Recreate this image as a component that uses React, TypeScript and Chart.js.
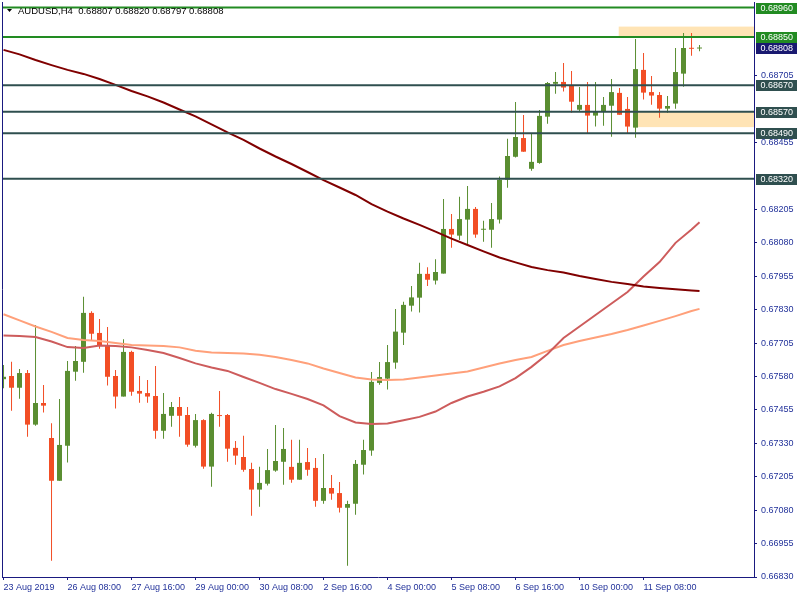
import React, { useEffect, useRef } from 'react';
import { Chart, registerables } from 'chart.js';

Chart.register(...registerables);

// ---- data (candle index k = one H4 bar) ----
const symbol = 'AUDUSD,H4';

const opens = [
  0.67570, 0.67582, 0.67538, 0.67593, 0.67400, 0.67481, 0.67350, 0.67190, 0.67321, 0.67598,
  0.67635, 0.67818, 0.67743, 0.67698, 0.67582, 0.67505, 0.67672, 0.67526, 0.67518, 0.67507,
  0.67377, 0.67433, 0.67466, 0.67436, 0.67321, 0.67417, 0.67243, 0.67435, 0.67436, 0.67313,
  0.67279, 0.67234, 0.67157, 0.67179, 0.67228, 0.67261, 0.67242, 0.67194, 0.67260, 0.67238,
  0.67115, 0.67163, 0.67144, 0.67089, 0.67104, 0.67250, 0.67303, 0.67556, 0.67572, 0.67632,
  0.67744, 0.67845, 0.67875, 0.67964, 0.67939, 0.67965, 0.68132, 0.68107, 0.68167, 0.68207,
  0.68129, 0.68129, 0.68167, 0.68316, 0.68402, 0.68472, 0.68357, 0.68379, 0.68552, 0.68675,
  0.68682, 0.68667, 0.68578, 0.68596, 0.68556, 0.68571, 0.68593, 0.68641, 0.68581, 0.68511,
  0.68727, 0.68644, 0.68633, 0.68582, 0.68601, 0.68713, 0.68809, 0.68807,
];
const highs = [
  0.67623, 0.67635, 0.67608, 0.67604, 0.67773, 0.67548, 0.67405, 0.67496, 0.67638, 0.67694,
  0.67878, 0.67824, 0.67795, 0.67765, 0.67604, 0.67719, 0.67676, 0.67582, 0.67567, 0.67619,
  0.67518, 0.67485, 0.67503, 0.67466, 0.67440, 0.67420, 0.67444, 0.67526, 0.67440, 0.67339,
  0.67358, 0.67257, 0.67242, 0.67309, 0.67399, 0.67387, 0.67343, 0.67343, 0.67313, 0.67275,
  0.67290, 0.67212, 0.67185, 0.67115, 0.67268, 0.67343, 0.67597, 0.67634, 0.67698, 0.67833,
  0.67860, 0.67919, 0.68006, 0.67989, 0.68019, 0.68244, 0.68188, 0.68252, 0.68293, 0.68214,
  0.68163, 0.68229, 0.68328, 0.68469, 0.68607, 0.68558, 0.68487, 0.68577, 0.68682, 0.68719,
  0.68753, 0.68723, 0.68663, 0.68682, 0.68682, 0.68626, 0.68693, 0.68659, 0.68626, 0.68843,
  0.68790, 0.68704, 0.68644, 0.68629, 0.68809, 0.68865, 0.68865, 0.68820,
];
const lows = [
  0.67536, 0.67452, 0.67497, 0.67355, 0.67396, 0.67445, 0.66891, 0.67190, 0.67258, 0.67564,
  0.67594, 0.67714, 0.67684, 0.67546, 0.67460, 0.67505, 0.67508, 0.67482, 0.67482, 0.67347,
  0.67347, 0.67392, 0.67355, 0.67317, 0.67314, 0.67235, 0.67168, 0.67392, 0.67261, 0.67250,
  0.67224, 0.67059, 0.67093, 0.67172, 0.67224, 0.67175, 0.67183, 0.67194, 0.67209, 0.67093,
  0.67104, 0.67119, 0.67071, 0.66872, 0.67063, 0.67213, 0.67284, 0.67549, 0.67531, 0.67609,
  0.67698, 0.67823, 0.67819, 0.67919, 0.67924, 0.67965, 0.68062, 0.68091, 0.68072, 0.68099,
  0.68084, 0.68062, 0.68152, 0.68286, 0.68399, 0.68421, 0.68350, 0.68376, 0.68526, 0.68638,
  0.68646, 0.68567, 0.68571, 0.68490, 0.68515, 0.68518, 0.68477, 0.68559, 0.68488, 0.68473,
  0.68616, 0.68597, 0.68548, 0.68567, 0.68582, 0.68664, 0.68780, 0.68797,
];
const closes = [
  0.67579, 0.67538, 0.67593, 0.67400, 0.67481, 0.67471, 0.67190, 0.67324, 0.67601, 0.67638,
  0.67818, 0.67740, 0.67695, 0.67579, 0.67505, 0.67672, 0.67523, 0.67516, 0.67505, 0.67377,
  0.67440, 0.67466, 0.67433, 0.67325, 0.67417, 0.67243, 0.67440, 0.67432, 0.67310, 0.67284,
  0.67231, 0.67157, 0.67182, 0.67230, 0.67264, 0.67309, 0.67194, 0.67257, 0.67231, 0.67115,
  0.67163, 0.67142, 0.67089, 0.67103, 0.67253, 0.67305, 0.67560, 0.67578, 0.67634, 0.67748,
  0.67848, 0.67876, 0.67964, 0.67942, 0.67971, 0.68132, 0.68111, 0.68169, 0.68207, 0.68111,
  0.68132, 0.68169, 0.68316, 0.68405, 0.68476, 0.68421, 0.68383, 0.68555, 0.68678, 0.68682,
  0.68661, 0.68608, 0.68596, 0.68556, 0.68573, 0.68596, 0.68644, 0.68559, 0.68515, 0.68730,
  0.68642, 0.68631, 0.68582, 0.68592, 0.68719, 0.68809, 0.68806, 0.68808,
];

// moving averages, sampled at these candle indices
const maIdx = [
  0, 2, 4, 6, 8, 10, 12, 14, 16, 18, 20, 22, 24, 26, 28, 30, 32, 34, 36, 38, 40, 42,
  44, 46, 48, 50, 52, 54, 56, 58, 60, 62, 64, 66, 68, 70, 72, 74, 76, 78, 80, 82, 84, 86, 87,
];
const maSlow = [
  0.68802, 0.68785, 0.68764, 0.68745, 0.68727, 0.68712, 0.68693, 0.68671, 0.68648, 0.68628,
  0.68605, 0.68579, 0.68553, 0.68523, 0.68493, 0.68465, 0.68433, 0.68403, 0.68375, 0.68345,
  0.68315, 0.68287, 0.68259, 0.68225, 0.68197, 0.68171, 0.68147, 0.68122, 0.68096, 0.68072,
  0.68048, 0.68025, 0.68007, 0.67990, 0.67978, 0.67969, 0.67956, 0.67945, 0.67934, 0.67926,
  0.67917, 0.67911, 0.67906, 0.67902, 0.67900,
];
const maMid = [
  0.67733, 0.67732, 0.67728, 0.67711, 0.67690, 0.67687, 0.67696, 0.67694, 0.67689, 0.67679,
  0.67668, 0.67649, 0.67629, 0.67614, 0.67601, 0.67578, 0.67556, 0.67533, 0.67515, 0.67496,
  0.67472, 0.67432, 0.67408, 0.67402, 0.67404, 0.67416, 0.67429, 0.67449, 0.67481, 0.67505,
  0.67523, 0.67543, 0.67574, 0.67616, 0.67664, 0.67724, 0.67767, 0.67810, 0.67853, 0.67896,
  0.67954, 0.68008, 0.68080, 0.68130, 0.68157,
];
const maFast = [
  0.67813, 0.67790, 0.67767, 0.67747, 0.67724, 0.67717, 0.67713, 0.67705, 0.67698, 0.67696,
  0.67694, 0.67689, 0.67676, 0.67670, 0.67668, 0.67666, 0.67661, 0.67653, 0.67642, 0.67629,
  0.67610, 0.67593, 0.67576, 0.67569, 0.67567, 0.67569, 0.67576, 0.67584, 0.67591, 0.67599,
  0.67614, 0.67629, 0.67642, 0.67653, 0.67676, 0.67698, 0.67713, 0.67726, 0.67739, 0.67754,
  0.67771, 0.67788, 0.67806, 0.67825, 0.67833,
];

// horizontal levels
const levels = [0.68960, 0.68850, 0.68670, 0.68570, 0.68490, 0.68320];
const levelKinds = ['res', 'res', 'sup', 'sup', 'sup', 'sup'];

// shaded zones (start at candle index, extend to the right edge)
const zoneFrom = [76.9, 79.3];
const zoneHi = [0.68889, 0.68570];
const zoneLo = [0.68850, 0.68513];

// axes
const yTickValues = [
  0.66830, 0.66955, 0.67080, 0.67205, 0.67330, 0.67455, 0.67580, 0.67705,
  0.67830, 0.67955, 0.68080, 0.68205, 0.68455, 0.68705,
];
const xTickIdx = [0, 8, 16, 24, 32, 40, 48, 56, 64, 72, 80];
const xTickLabels = [
  '23 Aug 2019', '26 Aug 08:00', '27 Aug 16:00', '29 Aug 00:00', '30 Aug 08:00',
  '2 Sep 16:00', '4 Sep 00:00', '5 Sep 08:00', '6 Sep 16:00', '10 Sep 00:00', '11 Sep 08:00',
];
const X_MIN = -0.19;
const X_MAX = 93.81;
const Y_MIN = 0.6683;
const Y_MAX = 0.68981;

// ---- styles ----
const GREEN = '#5a8e31';
const RED = '#f24e25';
const AXIS = '#1a1a80';
const AXIS_TEXT = '#22329a';
const RES_COLOR = '#228b22';
const SUP_COLOR = '#2f4f4f';
const ZONE_COLOR = '#ffe4b5';
const PRICE_BOX = '#191970';
const FONT = 'Liberation Sans';

const overlay = {
  id: 'overlay',
  beforeDatasetsDraw(chart: any) {
    const { ctx, chartArea: a, scales } = chart;
    const x = scales.x;
    const y = scales.y;
    ctx.save();
    ctx.beginPath();
    ctx.rect(a.left, a.top, a.right - a.left, a.bottom - a.top);
    ctx.clip();
    ctx.fillStyle = ZONE_COLOR;
    zoneFrom.forEach((f, i) => {
      const x0 = x.getPixelForValue(f);
      const y0 = y.getPixelForValue(zoneHi[i]);
      const y1 = y.getPixelForValue(zoneLo[i]);
      ctx.fillRect(x0, y0, a.right - x0, y1 - y0);
    });
    ctx.restore();
  },
  afterDraw(chart: any) {
    const { ctx, chartArea: a, scales } = chart;
    const y = scales.y;
    ctx.save();
    // left frame
    ctx.strokeStyle = AXIS;
    ctx.lineWidth = 1;
    ctx.beginPath();
    ctx.moveTo(a.left + 0.5, a.top);
    ctx.lineTo(a.left + 0.5, a.bottom);
    ctx.stroke();

    // title
    ctx.fillStyle = '#000';
    ctx.beginPath();
    ctx.moveTo(7, 9);
    ctx.lineTo(12, 9);
    ctx.lineTo(9.5, 12);
    ctx.closePath();
    ctx.fill();
    ctx.font = `9.5px "${FONT}"`;
    ctx.textBaseline = 'middle';
    ctx.textAlign = 'left';
    const last = closes.length - 1;
    const t = `${symbol}  ${opens[last].toFixed(5)} ${highs[last].toFixed(5)} ${lows[last].toFixed(5)} ${closes[last].toFixed(5)}`;
    ctx.fillText(t, 18, 11);

    // level boxes
    ctx.font = `9px "${FONT}"`;
    const drawBox = (v: number, color: string) => {
      const py = Math.round(y.getPixelForValue(v));
      ctx.fillStyle = color;
      ctx.fillRect(a.right + 2, py - 5, 41, 11);
      ctx.fillStyle = '#ffffff';
      ctx.fillText(v.toFixed(5), a.right + 6.5, py + 0.5);
    };
    levels.forEach((v, i) => drawBox(v, levelKinds[i] === 'res' ? RES_COLOR : SUP_COLOR));
    drawBox(closes[last], PRICE_BOX);
    ctx.restore();
  },
};

export default function App() {
  const ref = useRef<HTMLCanvasElement | null>(null);

  useEffect(() => {
    if (!ref.current) return;
    const idx = opens.map((_, i) => i);
    const colors = idx.map((i) => (closes[i] >= opens[i] ? GREEN : RED));

    const levelDatasets = levels.map((v, i) => ({
      type: 'line' as const,
      data: [
        { x: X_MIN, y: v },
        { x: X_MAX, y: v },
      ],
      borderColor: levelKinds[i] === 'res' ? RES_COLOR : SUP_COLOR,
      borderWidth: 2,
      pointRadius: 0,
      order: 0,
    }));

    const maLine = (vals: number[], color: string) => ({
      type: 'line' as const,
      data: maIdx.map((k, i) => ({ x: k, y: vals[i] })),
      borderColor: color,
      borderWidth: 2,
      pointRadius: 0,
      tension: 0,
      order: 1,
    });

    const chart = new Chart(ref.current, {
      type: 'bar',
      data: {
        datasets: [
          ...levelDatasets,
          maLine(maSlow, '#800000'),
          maLine(maMid, '#cd5c5c'),
          maLine(maFast, '#ffa07a'),
          {
            type: 'bar',
            data: idx.map((i) => ({ x: i, y: [opens[i], closes[i]] })),
            backgroundColor: colors,
            borderWidth: 0,
            barThickness: 5,
            minBarLength: 1,
            grouped: false,
            inflateAmount: 0,
            order: 2,
          } as any,
          {
            type: 'bar',
            data: idx.map((i) => ({ x: i, y: [lows[i], highs[i]] })),
            backgroundColor: colors,
            borderWidth: 0,
            barThickness: 1,
            grouped: false,
            inflateAmount: 0,
            order: 3,
          } as any,
        ],
      },
      options: {
        animation: false,
        responsive: false,
        events: [],
        layout: { padding: { left: 2, top: 2, right: 0, bottom: 0 } },
        plugins: { legend: { display: false }, tooltip: { enabled: false } },
        scales: {
          x: {
            type: 'linear',
            min: X_MIN,
            max: X_MAX,
            offset: false,
            afterBuildTicks: (s: any) => {
              s.ticks = xTickIdx.map((v) => ({ value: v }));
            },
            afterFit: (s: any) => {
              s.height = 23;
              s.paddingLeft = 0;
              s.paddingRight = 0;
              s.paddingTop = 0;
              s.paddingBottom = 0;
            },
            grid: {
              drawOnChartArea: false,
              drawTicks: true,
              tickLength: 3,
              color: AXIS,
              offset: false,
            },
            border: { display: true, color: AXIS, width: 1 },
            ticks: {
              autoSkip: false,
              maxRotation: 0,
              minRotation: 0,
              align: 'start',
              padding: 2,
              color: AXIS_TEXT,
              font: { family: FONT, size: 9 },
              callback: (v: any) => {
                const j = xTickIdx.indexOf(Number(v));
                return j >= 0 ? xTickLabels[j] : '';
              },
            },
          },
          y: {
            type: 'linear',
            position: 'right',
            min: Y_MIN,
            max: Y_MAX,
            beginAtZero: false,
            afterBuildTicks: (s: any) => {
              s.ticks = yTickValues.map((v) => ({ value: v }));
            },
            afterFit: (s: any) => {
              s.width = 46;
              s.paddingLeft = 0;
              s.paddingRight = 0;
              s.paddingTop = 0;
              s.paddingBottom = 0;
            },
            grid: {
              drawOnChartArea: false,
              drawTicks: true,
              tickLength: 3,
              color: AXIS,
            },
            border: { display: true, color: AXIS, width: 1 },
            ticks: {
              padding: 4,
              color: AXIS_TEXT,
              font: { family: FONT, size: 9 },
              callback: (v: any) => Number(v).toFixed(5),
            },
          },
        },
      } as any,
      plugins: [overlay],
    });
    return () => chart.destroy();
  }, []);

  return (
    <div style={{ position: 'absolute', left: 0, top: 0, width: 800, height: 600, background: '#fff' }}>
      <canvas ref={ref} width={800} height={600} style={{ display: 'block' }} />
    </div>
  );
}
